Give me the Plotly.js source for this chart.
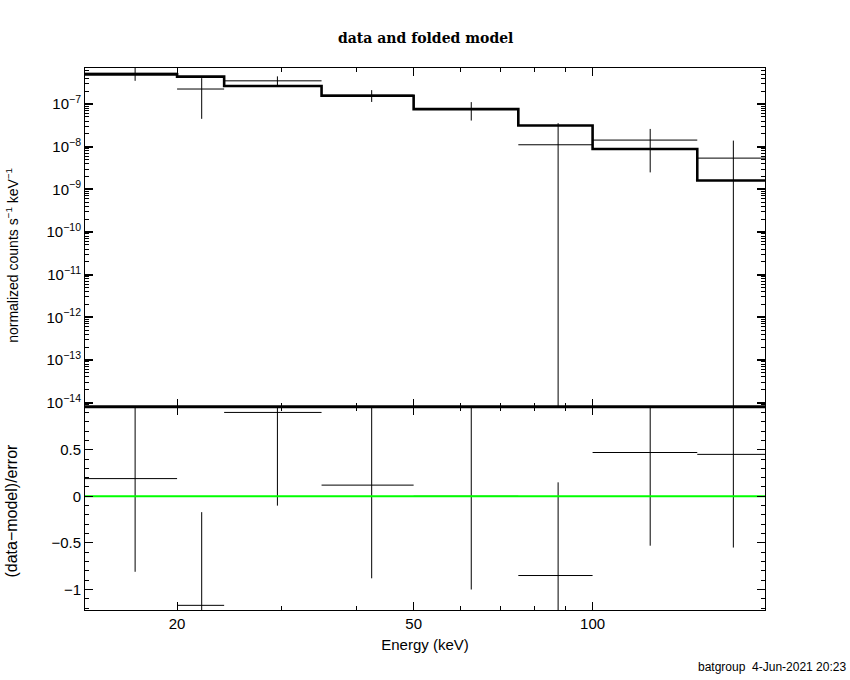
<!DOCTYPE html>
<html>
<head>
<meta charset="utf-8">
<script src="https://cdn.plot.ly/plotly-3.0.1.min.js"></script>
<style>body{margin:0;background:#fff}#chart{width:850px;height:680px}</style>
</head>
<body>
<div id="chart"></div>
<script>
// Energy bin edges (keV) and bin centres
const binEdges = [14, 20, 24, 35, 50, 75, 100, 150, 195];
const binCenters = [17, 22, 29.5, 42.5, 62.5, 87.5, 125, 172.5];
// normalized counts s^-1 keV^-1
const dataRate = [5.3e-7, 2.25e-7, 3.5e-7, 1.62e-7, 7.6e-8, 1.11e-8, 1.43e-8, 5.4e-9];
const dataErr = [1.8e-7, 1.8e-7, 0.95e-7, 0.5e-7, 3.5e-8, 2.45e-8, 1.18e-8, 8.5e-9];
const modelRate = [4.95e-7, 4.4e-7, 2.65e-7, 1.56e-7, 7.6e-8, 3.15e-8, 8.8e-9, 1.61e-9];
// (data-model)/error
const residual = [0.19, -1.17, 0.90, 0.12, 0.0, -0.85, 0.47, 0.45];
const residualErr = [1, 1, 1, 1, 1, 1, 1, 1];
// tick labels
const xTickVals = [20, 50, 100];
const xTickText = ['20', '50', '100'];
const xMinorVals = [30, 40, 60, 70, 80, 90];
const yTopTickVals = [1e-14, 1e-13, 1e-12, 1e-11, 1e-10, 1e-9, 1e-8, 1e-7];
const yTopTickText = ['10<sup>−14</sup>', '10<sup>−13</sup>', '10<sup>−12</sup>', '10<sup>−11</sup>',
  '10<sup>−10</sup>', '10<sup>−9</sup>', '10<sup>−8</sup>', '10<sup>−7</sup>'];
const yBotTickVals = [-1, -0.5, 0, 0.5];
const yBotTickText = ['−1', '−0.5', '0', '0.5'];

function crossSegments(vals, errs, logAxis) {
  const x = [], y = [];
  for (let i = 0; i < vals.length; i++) {
    x.push(binEdges[i], binEdges[i + 1], null);
    y.push(vals[i], vals[i], null);
    let lo = vals[i] - errs[i];
    if (logAxis && lo <= 0) lo = 1e-20;
    x.push(binCenters[i], binCenters[i], null);
    y.push(lo, vals[i] + errs[i], null);
  }
  return {x, y};
}

const minorTop = [];
for (let e = -15; e <= -6; e++) for (let m = 2; m <= 9; m++) minorTop.push(m * Math.pow(10, e));
const minorBot = [];
for (let v = -1.2; v <= 1.0; v += 0.1) minorBot.push(Math.round(v * 10) / 10);

const dTop = crossSegments(dataRate, dataErr, true);
const dBot = crossSegments(residual, residualErr, false);

const traces = [
  {x: dTop.x, y: dTop.y, xaxis: 'x', yaxis: 'y', mode: 'lines', line: {color: '#000', width: 1},
   connectgaps: false, hoverinfo: 'skip', showlegend: false},
  {x: binEdges, y: modelRate.concat([modelRate[modelRate.length - 1]]), xaxis: 'x', yaxis: 'y',
   mode: 'lines', line: {color: '#000', width: 2.6, shape: 'hv'}, hoverinfo: 'skip', showlegend: false},
  {x: dBot.x, y: dBot.y, xaxis: 'x2', yaxis: 'y2', mode: 'lines', line: {color: '#000', width: 1},
   connectgaps: false, hoverinfo: 'skip', showlegend: false},
  {x: [binEdges[0], binEdges[binEdges.length - 1]], y: [0, 0], xaxis: 'x2', yaxis: 'y2', mode: 'lines',
   line: {color: '#00ff00', width: 2}, hoverinfo: 'skip', showlegend: false}
];

const tickFont = {family: 'Liberation Sans, Arial, sans-serif', size: 15, color: '#000'};
const xCommon = {
  type: 'log', range: [Math.log10(14), Math.log10(195)], showgrid: false, zeroline: false,
  showline: true, linecolor: '#000', linewidth: 1, mirror: 'ticks', ticks: 'inside',
  tickvals: xTickVals, ticktext: xTickText, ticklen: 8, tickwidth: 1, tickcolor: '#000',
  minor: {tickvals: xMinorVals, ticks: 'inside', ticklen: 4, tickwidth: 1, tickcolor: '#000', showgrid: false},
  tickfont: tickFont
};

const layout = {
  width: 850, height: 680, paper_bgcolor: '#fff', plot_bgcolor: '#fff',
  margin: {l: 85, r: 85, t: 68, b: 70},
  showlegend: false,
  xaxis: Object.assign({}, xCommon, {anchor: 'y', showticklabels: false}),
  yaxis: {
    type: 'log', domain: [0.375, 1], range: [-14.096, -6.155], anchor: 'x',
    showgrid: false, zeroline: false, showline: true, linecolor: '#000', linewidth: 1,
    mirror: 'ticks', ticks: 'inside', tickvals: yTopTickVals, ticktext: yTopTickText,
    ticklen: 8, tickwidth: 2, tickcolor: '#000', tickfont: tickFont,
    minor: {tickvals: minorTop, ticks: 'inside', ticklen: 4, tickwidth: 1, tickcolor: '#000', showgrid: false}
  },
  xaxis2: Object.assign({}, xCommon, {anchor: 'y2', showticklabels: true,
    title: {text: 'Energy (keV)', font: {family: 'Liberation Sans, Arial, sans-serif', size: 15, color: '#000'}, standoff: 8}}),
  yaxis2: {
    domain: [0, 0.375], range: [-1.22, 0.961], anchor: 'x2',
    showgrid: false, zeroline: false, showline: true, linecolor: '#000', linewidth: 1,
    mirror: 'ticks', ticks: 'inside', tickvals: yBotTickVals, ticktext: yBotTickText,
    ticklen: 8, tickwidth: 1, tickcolor: '#000', tickfont: tickFont,
    minor: {tickvals: minorBot, ticks: 'inside', ticklen: 4, tickwidth: 1, tickcolor: '#000', showgrid: false}
  },
  shapes: [
    {type: 'line', xref: 'paper', yref: 'paper', x0: 0, x1: 1, y0: 0.375, y1: 0.375,
     line: {color: '#000', width: 3}}
  ],
  annotations: [
    {text: 'data and folded model', xref: 'paper', yref: 'paper', x: 0.5, y: 1, yshift: 30,
     showarrow: false, xanchor: 'center', yanchor: 'middle',
     font: {family: 'DejaVu Serif, serif', size: 14, color: '#000', weight: 'bold'}},
    {text: 'normalized counts s<sup>−1</sup> keV<sup>−1</sup>', xref: 'paper', yref: 'paper',
     x: (12 - 85) / 680, y: 1 - (256 - 68) / 542.5, textangle: -90, showarrow: false,
     xanchor: 'center', yanchor: 'middle',
     font: {family: 'Liberation Sans, Arial, sans-serif', size: 14, color: '#000'}},
    {text: '(data−model)/error', xref: 'paper', yref: 'paper',
     x: (12 - 85) / 680, y: 1 - (511 - 68) / 542.5, textangle: -90, showarrow: false,
     xanchor: 'center', yanchor: 'middle',
     font: {family: 'Liberation Sans, Arial, sans-serif', size: 16, color: '#000'}},
    {text: 'batgroup  4-Jun-2021 20:23', xref: 'paper', yref: 'paper',
     x: (848 - 85) / 680, y: 1 - (668 - 68) / 542.5, showarrow: false,
     xanchor: 'right', yanchor: 'middle',
     font: {family: 'Liberation Sans, Arial, sans-serif', size: 12, color: '#000'}}
  ]
};

Plotly.newPlot('chart', traces, layout, {staticPlot: true, displayModeBar: false});
</script>
</body>
</html>
